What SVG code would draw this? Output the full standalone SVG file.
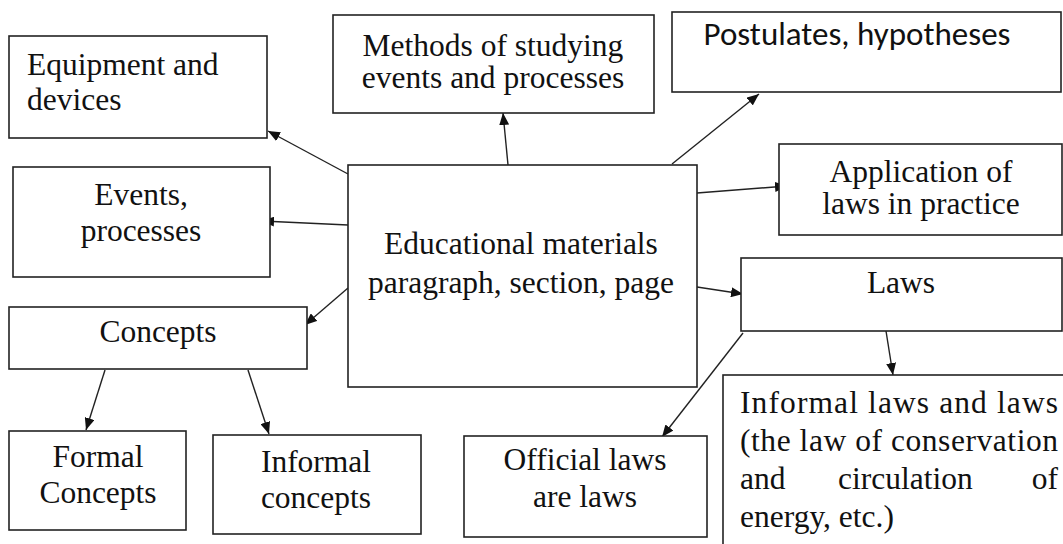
<svg xmlns="http://www.w3.org/2000/svg" width="1063" height="544" viewBox="0 0 1063 544">
<style>
.box{fill:#fff;stroke:#222;stroke-width:1.6}
text{fill:#111}
.c{text-anchor:middle}
.ln{stroke:#222;stroke-width:1.4;fill:none;marker-end:url(#ah)}
</style>
<defs>
<marker id="ah" viewBox="0 0 12 10" refX="12" refY="5" markerWidth="12" markerHeight="10" markerUnits="userSpaceOnUse" orient="auto">
<path d="M0,0 L12,5 L0,10 Z" fill="#111"/>
</marker>
</defs>
<rect width="1063" height="544" fill="#fff"/>
<g id="connectors">
<line class="ln" x1="348" y1="174" x2="268" y2="131"/>
<line class="ln" x1="348" y1="225" x2="262" y2="221"/>
<line class="ln" x1="508" y1="165" x2="503" y2="113"/>
<line class="ln" x1="672" y1="164" x2="759" y2="94"/>
<line class="ln" x1="697" y1="193" x2="787" y2="186"/>
<line class="ln" x1="697" y1="287" x2="743" y2="294"/>
<line class="ln" x1="348" y1="288" x2="305" y2="325"/>
<line class="ln" x1="105" y1="370" x2="86" y2="430"/>
<line class="ln" x1="248" y1="370" x2="269" y2="434"/>
<line class="ln" x1="886" y1="331" x2="893" y2="375"/>
<line class="ln" x1="743" y1="333" x2="662" y2="437"/>
</g>
<g id="equipment">
<rect class="box" x="9" y="36" width="258" height="102"/>
<text x="27" y="75" font-family="Liberation Serif" font-size="31.5">Equipment and</text>
<text x="27" y="110" font-family="Liberation Serif" font-size="31.5">devices</text>
</g>
<g id="methods">
<rect class="box" x="333" y="15" width="321" height="98"/>
<text class="c" x="493" y="56" font-family="Liberation Serif" font-size="31.5">Methods of studying</text>
<text class="c" x="493" y="88" font-family="Liberation Serif" font-size="31.5">events and processes</text>
</g>
<g id="postulates">
<rect class="box" x="672" y="12" width="389" height="80"/>
<text class="c" x="857" y="45" font-family="Carlito" font-size="33">Postulates, hypotheses</text>
</g>
<g id="events">
<rect class="box" x="13" y="167" width="257" height="110"/>
<text class="c" x="141" y="205" font-family="Liberation Serif" font-size="31.5">Events,</text>
<text class="c" x="141" y="241" font-family="Liberation Serif" font-size="31.5">processes</text>
</g>
<g id="application">
<rect class="box" x="779" y="144" width="283" height="91"/>
<text class="c" x="921" y="182" font-family="Liberation Serif" font-size="31.5">Application of</text>
<text class="c" x="921" y="214" font-family="Liberation Serif" font-size="31.5">laws in practice</text>
</g>
<g id="central">
<rect class="box" x="348" y="165" width="349" height="222"/>
<text class="c" x="521" y="254" font-family="Liberation Serif" font-size="31.5">Educational materials</text>
<text class="c" x="521" y="293" font-family="Liberation Serif" font-size="31.5">paragraph, section, page</text>
</g>
<g id="laws">
<rect class="box" x="741" y="258" width="321" height="73"/>
<text class="c" x="901" y="293" font-family="Liberation Serif" font-size="31.5">Laws</text>
</g>
<g id="concepts">
<rect class="box" x="9" y="307" width="298" height="62"/>
<text class="c" x="158" y="342" font-family="Liberation Serif" font-size="31.5">Concepts</text>
</g>
<g id="formal">
<rect class="box" x="9" y="431" width="177" height="99"/>
<text class="c" x="98" y="467" font-family="Liberation Serif" font-size="31.5">Formal</text>
<text class="c" x="98" y="503" font-family="Liberation Serif" font-size="31.5">Concepts</text>
</g>
<g id="informal-concepts">
<rect class="box" x="213" y="435" width="208" height="99"/>
<text class="c" x="316" y="472" font-family="Liberation Serif" font-size="31.5">Informal</text>
<text class="c" x="316" y="508" font-family="Liberation Serif" font-size="31.5">concepts</text>
</g>
<g id="official">
<rect class="box" x="464" y="436" width="243" height="101"/>
<text class="c" x="585" y="470" font-family="Liberation Serif" font-size="31.5">Official laws</text>
<text class="c" x="585" y="507" font-family="Liberation Serif" font-size="31.5">are laws</text>
</g>
<g id="informal-laws">
<rect class="box" x="723" y="375" width="345" height="180"/>
<text x="740" y="413" textLength="318" lengthAdjust="spacing" font-family="Liberation Serif" font-size="31.5">Informal laws and laws</text>
<text x="740" y="451" textLength="318" lengthAdjust="spacing" font-family="Liberation Serif" font-size="31.5">(the law of conservation</text>
<text x="740" y="489" font-family="Liberation Serif" font-size="31.5">and</text>
<text x="838" y="489" font-family="Liberation Serif" font-size="31.5">circulation</text>
<text x="1058" y="489" text-anchor="end" font-family="Liberation Serif" font-size="31.5">of</text>
<text x="740" y="527" font-family="Liberation Serif" font-size="31.5">energy, etc.)</text>
</g>
</svg>
